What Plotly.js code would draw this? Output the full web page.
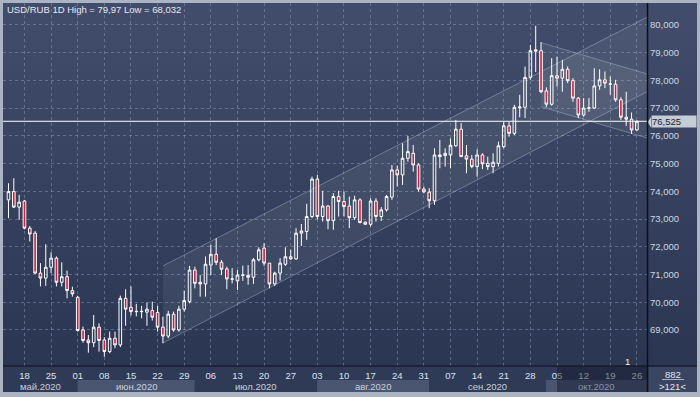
<!DOCTYPE html>
<html><head><meta charset="utf-8">
<script src="https://cdn.plot.ly/plotly-3.0.1.min.js"></script>
<style>
html,body{margin:0;padding:0;background:#aab4c2;overflow:hidden;}
#wrap{position:relative;width:700px;height:397px;overflow:hidden;background:#aab4c2;}
#bg{position:absolute;left:3px;top:3px;width:694px;height:363px;background:linear-gradient(#414d6a,#2b3653);}
#band{position:absolute;left:3px;top:366px;width:694px;height:26px;background:#2f3a56;}
#chart{position:absolute;left:0;top:0;width:700px;height:397px;}
</style></head>
<body><div id="wrap"><div id="bg"></div><div id="band"></div><div id="chart"></div></div>
<script>
// ---------------- data ----------------
const dates = [
"2020-05-13","2020-05-14","2020-05-15",
"2020-05-18","2020-05-19","2020-05-20","2020-05-21","2020-05-22",
"2020-05-25","2020-05-26","2020-05-27","2020-05-28","2020-05-29",
"2020-06-01","2020-06-02","2020-06-03","2020-06-04","2020-06-05",
"2020-06-08","2020-06-09","2020-06-10","2020-06-11","2020-06-12",
"2020-06-15","2020-06-16","2020-06-17","2020-06-18","2020-06-19",
"2020-06-22","2020-06-23","2020-06-24","2020-06-25","2020-06-26",
"2020-06-29","2020-06-30","2020-07-01","2020-07-02","2020-07-03",
"2020-07-06","2020-07-07","2020-07-08","2020-07-09","2020-07-10",
"2020-07-13","2020-07-14","2020-07-15","2020-07-16","2020-07-17",
"2020-07-20","2020-07-21","2020-07-22","2020-07-23","2020-07-24",
"2020-07-27","2020-07-28","2020-07-29","2020-07-30","2020-07-31",
"2020-08-03","2020-08-04","2020-08-05","2020-08-06","2020-08-07",
"2020-08-10","2020-08-11","2020-08-12","2020-08-13","2020-08-14",
"2020-08-17","2020-08-18","2020-08-19","2020-08-20","2020-08-21",
"2020-08-24","2020-08-25","2020-08-26","2020-08-27","2020-08-28",
"2020-08-31","2020-09-01","2020-09-02","2020-09-03","2020-09-04",
"2020-09-07","2020-09-08","2020-09-09","2020-09-10","2020-09-11",
"2020-09-14","2020-09-15","2020-09-16","2020-09-17","2020-09-18",
"2020-09-21","2020-09-22","2020-09-23","2020-09-24","2020-09-25",
"2020-09-28","2020-09-29","2020-09-30","2020-10-01","2020-10-02",
"2020-10-05","2020-10-06","2020-10-07","2020-10-08","2020-10-09",
"2020-10-12","2020-10-13","2020-10-14","2020-10-15","2020-10-16",
"2020-10-19","2020-10-20","2020-10-21","2020-10-22","2020-10-23",
"2020-10-26"];
const open = [73.69,73.99,73.43, 73.65,72.67,72.49,71.05,70.87, 71.26,71.59,70.72,70.92,70.42,
 70.18,69.00,68.64,68.54,69.10, 68.64,68.22,68.70,68.46,70.14, 69.82,69.66,69.66,69.64,69.70,
 69.63,69.10,68.78,69.57,69.00, 69.75,70.02,71.16,70.72,70.66, 71.34,71.73,71.44,71.20,70.83,
 70.77,70.97,70.97,70.90,71.53, 71.95,71.41,70.66,71.05,71.37, 71.64,71.56,72.49,72.55,73.09,
 74.44,73.09,73.47,72.94,73.81, 73.63,73.47,73.05,73.69,72.89, 72.81,73.65,73.09,73.33,73.79,
 74.77,74.59,75.19,75.37,74.95, 74.08,73.97,73.66,75.25,75.29, 75.31,75.64,76.24,75.28,75.16,
 74.89,75.31,75.01,74.89,75.01, 75.61,76.36,76.09,77.01,77.03, 78.11,79.05,79.07,77.62,77.14,
 78.17,78.08,78.40,77.99,77.36, 76.75,77.00,77.00,77.80,78.02, 77.86,77.86,77.30,76.67,76.60,
 76.21];
const high = [74.29,74.47,73.87, 73.69,72.75,72.57,71.41,72.09, 71.80,71.65,71.44,71.14,70.56,
 70.23,69.12,68.82,69.54,69.24, 68.74,68.94,68.94,70.24,70.47, 70.57,69.94,69.87,69.99,70.02,
 69.87,69.48,69.69,69.66,69.87, 70.42,71.31,71.28,70.98,71.65, 72.07,72.31,71.52,71.28,71.23,
 71.16,71.32,71.34,71.59,71.98, 72.13,71.41,71.10,71.59,71.98, 71.89,72.67,72.82,73.55,74.53,
 74.59,74.02,73.50,73.93,74.02, 73.99,73.81,73.84,73.75,72.91, 73.75,73.75,73.43,73.87,74.95,
 74.92,75.73,76.00,75.67,75.01, 74.17,74.11,75.55,75.85,75.55, 75.91,76.57,76.46,75.67,75.31,
 75.51,75.37,75.25,75.37,75.79, 76.51,76.51,77.12,77.48,78.50, 79.28,79.97,79.38,77.75,78.80,
 78.86,78.74,78.50,78.08,77.39, 77.36,77.36,78.44,78.40,78.32, 78.14,78.02,77.39,77.59,76.84,
 76.55];
const low = [73.03,73.40,72.97, 72.63,72.19,71.02,70.57,70.59, 71.05,70.57,70.57,70.14,70.20,
 68.94,68.54,68.18,68.38,68.22, 68.03,68.16,68.34,68.38,69.15, 69.52,69.49,69.42,69.15,69.34,
 68.94,68.52,68.70,68.94,68.94, 69.66,69.96,70.50,70.20,70.20, 70.98,71.34,70.98,70.47,70.68,
 70.44,70.77,70.63,70.66,71.47, 71.31,70.50,70.59,70.78,71.31, 71.53,71.53,72.03,72.25,73.03,
 72.99,72.91,72.63,72.61,73.09, 73.09,72.67,72.97,72.85,72.79, 72.73,72.91,72.93,73.27,73.69,
 74.17,74.23,75.07,74.71,73.99, 73.93,73.39,73.51,74.83,74.89, 74.83,75.61,75.24,74.65,74.83,
 74.53,74.80,74.77,74.65,74.89, 75.55,75.97,76.03,76.67,76.64, 78.02,78.30,77.54,77.03,77.09,
 77.78,77.59,77.90,77.23,76.64, 76.69,76.87,76.97,77.66,77.72, 77.48,77.23,76.57,76.36,76.07,
 76.19];
const close = [73.99,73.43,73.61, 72.67,72.46,71.05,70.87,71.26, 71.59,70.72,70.92,70.42,70.30,
 68.98,68.62,68.54,69.10,68.62, 68.22,68.70,68.46,70.14,69.75, 69.66,69.67,69.67,69.75,69.46,
 69.10,68.78,69.57,69.00,69.75, 70.06,71.16,70.68,70.66,71.37, 71.73,71.44,71.19,70.84,70.84,
 70.98,70.98,70.90,71.53,71.89, 71.41,70.66,71.05,71.41,71.64, 71.56,72.49,72.57,73.09,74.44,
 73.09,73.47,72.94,73.81,73.63, 73.45,73.05,73.69,72.87,72.81, 73.65,73.09,73.33,73.81,74.77,
 74.59,75.19,75.43,74.95,74.08, 73.98,73.66,75.31,75.31,75.37, 75.66,76.24,75.25,75.16,74.89,
 75.31,74.99,74.89,75.05,75.64, 76.36,76.09,77.03,77.04,78.11, 79.07,79.10,77.59,77.14,78.17,
 78.08,78.40,77.99,77.36,76.75, 77.00,77.01,77.80,78.02,77.90, 77.87,77.30,76.67,76.60,76.21,
 76.525];

const weekTicks = ["2020-05-18","2020-05-25","2020-06-01","2020-06-08","2020-06-15","2020-06-22",
 "2020-06-29","2020-07-06","2020-07-13","2020-07-20","2020-07-27","2020-08-03","2020-08-10",
 "2020-08-17","2020-08-24","2020-08-31","2020-09-07","2020-09-14","2020-09-21","2020-09-28",
 "2020-10-05","2020-10-12","2020-10-19","2020-10-26"];
const weekLabels = ["18","25","01","08","15","22","29","06","13","20","27","03","10","17","24","31",
 "07","14","21","28","05","12","19","26"];
const monthNames = ["май.2020","июн.2020","июл.2020","авг.2020","сен.2020","окт.2020"];
const priceTicks = [69,70,71,72,73,74,75,76,77,78,79,80];
const chartTitle = "USD/RUB 1D High = 79,97 Low = 68,032";
const lastPrice = 76.525;
const lastPriceLabel = "76,525";
const eventDate = "2020-10-22", eventLabel = "1";
const dimFrom = "2020-10-05";
const infoTop = "882", infoBottom = ">121<";
// trend channels: [date, price] anchor pairs
const ascUpper = [["2020-06-23",71.31],["2020-10-26",80.09]];
const ascLower = [["2020-06-23",68.53],["2020-10-26",77.40]];
const descUpper = [["2020-09-30",79.36],["2020-10-26",78.34]];
const descLower = [["2020-09-30",77.05],["2020-10-26",76.03]];

// ---------------- geometry ----------------
const W=700,H=397,ML=3,MR=53,MT=3,MB=31;
const PW=W-ML-MR, PH=H-MT-MB;
const px=X=>(X-ML)/PW, py=Y=>(H-MB-Y)/PH;
const XMIN=-1.03, XMAX=119.9, XEXT=135;
const idx = dates.map((d,i)=>i);
const di = d=>dates.indexOf(d);
const tickIdx = weekTicks.map(di);

function lineAt(anchor, x){
  const x0=di(anchor[0][0]), y0=anchor[0][1], x1=di(anchor[1][0]), y1=anchor[1][1];
  return y0+(y1-y0)*(x-x0)/(x1-x0);
}
function channel(up, lo){
  const x0=di(up[0][0]);
  const shapes=[];
  shapes.push({type:'path',xref:'x',yref:'y',layer:'between',
    path:`M${x0},${lineAt(up,x0)} L${XEXT},${lineAt(up,XEXT)} L${XEXT},${lineAt(lo,XEXT)} L${x0},${lineAt(lo,x0)} Z`,
    fillcolor:'rgba(255,255,255,0.065)',line:{width:0}});
  [up,lo].forEach(a=>shapes.push({type:'line',xref:'x',yref:'y',layer:'between',
    x0:x0,y0:lineAt(a,x0),x1:XEXT,y1:lineAt(a,XEXT),
    line:{color:'rgba(195,205,225,0.38)',width:1}}));
  return shapes;
}

// month boundaries from data
const mStart=[];
dates.forEach((d,i)=>{ if(i===0||d.slice(0,7)!==dates[i-1].slice(0,7)) mStart.push(i); });

const shapes=[];
const annotations=[];
mStart.forEach((s,k)=>{
  const a = k===0?XMIN:s-0.05, b = k===mStart.length-1?XMAX:mStart[k+1]-0.05;
  if(k%2===1) shapes.push({type:'rect',xref:'x',yref:'paper',layer:'below',x0:a,x1:b,y0:py(392),y1:py(380),
     fillcolor:'#4a5571',line:{width:0}});
  annotations.push({xref:'x',yref:'paper',x:(a+b)/2,y:py(386),text:monthNames[k],showarrow:false,
     xanchor:'center',yanchor:'middle',font:{family:'Liberation Sans, Arial, sans-serif',size:9.5,color: k===mStart.length-1?'#8892a4':'#c9d0dc'}});
});
shapes.push(...channel(ascUpper,ascLower));
shapes.push(...channel(descUpper,descLower));
// current price line
shapes.push({type:'line',xref:'paper',yref:'y',x0:0,x1:1,y0:lastPrice,y1:lastPrice,layer:'above',
  line:{color:'#ffffff',width:1}});
// price label arrow
shapes.push({type:'path',xref:'paper',yref:'paper',layer:'above',
  path:`M${px(647.5)},${py(122)} L${px(651)},${py(117)} L${px(651)},${py(127.5)} Z`,fillcolor:'#c6ccd6',line:{width:0}});
// dim overlay on time band
shapes.push({type:'rect',xref:'x',yref:'paper',layer:'above',x0:di(dimFrom),x1:XMAX,y0:py(392),y1:py(366),
  fillcolor:'rgba(18,25,42,0.45)',line:{width:0}});
// separators
shapes.push({type:'line',xref:'paper',yref:'paper',layer:'above',x0:px(647.5),x1:px(647.5),y0:py(392),y1:py(3),
  line:{color:'#0c1019',width:1.5}});
shapes.push({type:'line',xref:'paper',yref:'paper',layer:'above',x0:px(3),x1:px(697),y0:py(366),y1:py(366),
  line:{color:'#0c1019',width:1.2}});
// info box right bottom
shapes.push({type:'rect',xref:'paper',yref:'paper',layer:'below',x0:px(648.5),x1:px(697),y0:py(392),y1:py(367),
  fillcolor:'#3a4561',line:{width:0}});
shapes.push({type:'line',xref:'paper',yref:'paper',layer:'above',x0:px(662),x1:px(684),y0:py(379.5),y1:py(379.5),
  line:{color:'#aab3c3',width:1}});

const fnt='Liberation Sans, Arial, sans-serif';
annotations.push({xref:'paper',yref:'paper',x:px(5),y:py(10),text:chartTitle,showarrow:false,xanchor:'left',yanchor:'middle',
  font:{family:fnt,size:9.5,color:'#e6eaf1'}});
annotations.push({xref:'paper',yref:'y',x:px(651),y:lastPrice,text:lastPriceLabel,showarrow:false,xanchor:'left',yanchor:'middle',
  bgcolor:'#c6ccd6',width:44,height:11,align:'left',borderpad:0,font:{family:fnt,size:9.5,color:'#1a2232'}});
annotations.push({xref:'paper',yref:'paper',x:px(672.5),y:py(374),text:infoTop,showarrow:false,xanchor:'center',yanchor:'middle',
  font:{family:fnt,size:9.5,color:'#e2e6ee'}});
annotations.push({xref:'paper',yref:'paper',x:px(672.5),y:py(386),text:infoBottom,showarrow:false,xanchor:'center',yanchor:'middle',
  font:{family:fnt,size:9.5,color:'#e2e6ee'}});
annotations.push({xref:'x',yref:'paper',x:di(eventDate)+0.2,y:py(361),text:eventLabel,showarrow:false,xanchor:'center',yanchor:'middle',
  font:{family:fnt,size:9.5,color:'#f0f2f6'}});

const trace={type:'candlestick',x:idx,open:open,high:high,low:low,close:close,
  increasing:{line:{color:'#ffffff',width:1},fillcolor:'rgba(0,0,0,0)'},
  decreasing:{line:{color:'#ffffff',width:1},fillcolor:'#c8203e'},
  whiskerwidth:0,hoverinfo:'skip',showlegend:false};

const grid='rgba(140,155,185,0.5)';
const layout={width:W,height:H,margin:{l:ML,r:MR,t:MT,b:MB,pad:0},
  paper_bgcolor:'rgba(0,0,0,0)',plot_bgcolor:'rgba(0,0,0,0)',separators:', ',
  showlegend:false,dragmode:false,
  xaxis:{type:'linear',range:[XMIN,XMAX],tickmode:'array',tickvals:tickIdx,ticktext:weekLabels,
    showgrid:true,gridcolor:grid,griddash:'3px,3px',gridwidth:1,zeroline:false,showline:false,ticks:'',
    ticklabelstandoff:2,tickfont:{family:fnt,size:9.5,color:'#dde2ea'},rangeslider:{visible:false},fixedrange:true},
  yaxis:{side:'right',range:[67.70,80.79],tickmode:'array',tickvals:priceTicks,tickformat:'.3f',
    showgrid:true,gridcolor:grid,griddash:'3px,3px',gridwidth:1,zeroline:false,showline:false,ticks:'',
    ticklabelstandoff:2,tickfont:{family:fnt,size:9.5,color:'#cdd5e3'},fixedrange:true},
  shapes:shapes,annotations:annotations};
Plotly.newPlot('chart',[trace],layout,{displayModeBar:false,staticPlot:true});
</script>
</body></html>
